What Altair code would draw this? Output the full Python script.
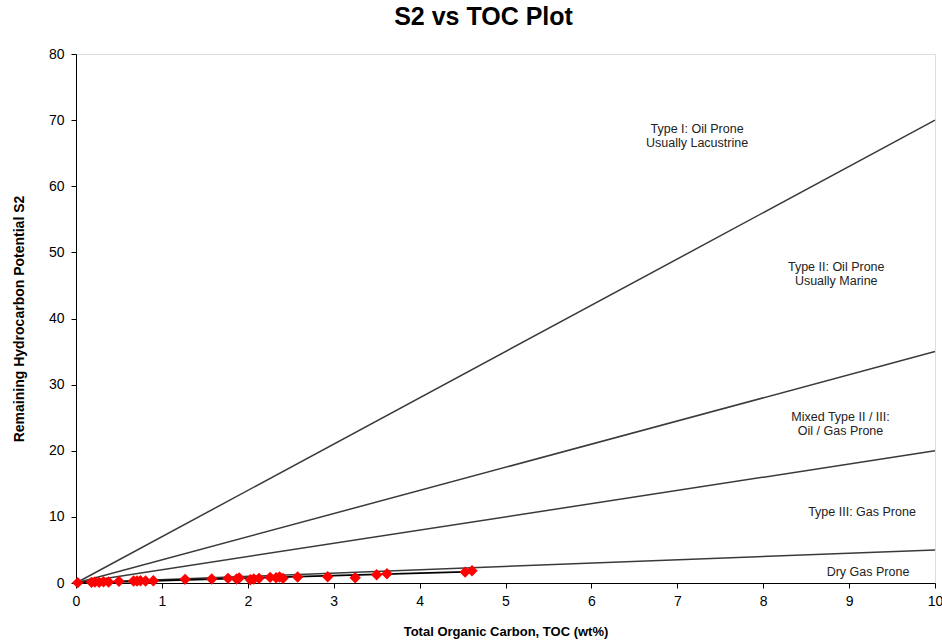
import altair as alt
import pandas as pd

# Sample data (TOC wt%, S2)
toc = [0.02, 0.18, 0.22, 0.27, 0.32, 0.38, 0.50, 0.67, 0.71, 0.75, 0.81, 0.90,
       1.27, 1.58, 1.77, 1.87, 1.90, 2.03, 2.07, 2.13, 2.26, 2.33, 2.37, 2.41,
       2.58, 2.93, 3.25, 3.50, 3.62, 4.53, 4.61]
s2 = [0.05, 0.10, 0.15, 0.10, 0.20, 0.15, 0.25, 0.30, 0.30, 0.35, 0.30, 0.35,
      0.55, 0.60, 0.70, 0.60, 0.75, 0.50, 0.60, 0.70, 0.85, 0.80, 0.90, 0.70,
      0.90, 0.95, 0.80, 1.25, 1.40, 1.65, 1.85]

# Kerogen type boundary lines (S2 at TOC = 0 and 10)
boundary_names = ["Type I", "Type II", "Mixed", "Type III"]
boundary_end_s2 = [70, 35, 20, 5]
boundary_x = [0, 10]

# Trend line through samples
trend_x = [0, 4.62]
trend_y = [0, 1.72]

# Zone labels
label_text = [["Type I: Oil Prone", "Usually Lacustrine"],
              ["Type II: Oil Prone", "Usually Marine"],
              ["Mixed Type II / III:", "Oil / Gas Prone"],
              ["Type III: Gas Prone"],
              ["Dry Gas Prone"]]
label_x = [7.23, 8.85, 8.9, 9.15, 9.22]
label_y = [68.7, 47.8, 25.1, 10.7, 1.66]

pts = pd.DataFrame({"TOC": toc, "S2": s2})

rows = []
for name, end in zip(boundary_names, boundary_end_s2):
    for xv in boundary_x:
        rows.append({"line": name, "TOC": xv, "S2": end * xv / 10})
lines_df = pd.DataFrame(rows)

trend_df = pd.DataFrame({"TOC": trend_x, "S2": trend_y})
labels_df = pd.DataFrame({"text": label_text, "TOC": label_x, "S2": label_y})

xscale = alt.Scale(domain=[0, 10], nice=False)
yscale = alt.Scale(domain=[0, 80], nice=False)

xenc = alt.X("TOC:Q", scale=xscale,
             axis=alt.Axis(title="Total Organic Carbon, TOC (wt%)", values=list(range(0, 11)),
                           format="d", grid=False, tickSize=5, domainColor="black",
                           tickColor="black", labelFontSize=14, labelColor="#000",
                           labelPadding=6, labelFlush=False, labelOverlap=False,
                           titleFontSize=13, titleFontWeight="bold",
                           titlePadding=17, labelFont="Liberation Sans",
                           titleFont="Liberation Sans", titleColor="#000"))
yenc = alt.Y("S2:Q", scale=yscale,
             axis=alt.Axis(title="Remaining Hydrocarbon Potential S2", values=list(range(0, 81, 10)),
                           format="d", grid=False, tickSize=5, domainColor="black",
                           tickColor="black", labelFontSize=14, labelColor="#000",
                           labelPadding=7, labelFlush=False, labelOverlap=False,
                           titleFontSize=14, titleFontWeight="bold",
                           titlePadding=22, labelFont="Liberation Sans",
                           titleFont="Liberation Sans", titleColor="#000"))

lines = alt.Chart(lines_df).mark_line(color="#3a3a3a", strokeWidth=1.5).encode(
    x=xenc, y=yenc, detail="line:N")

trend = alt.Chart(trend_df).mark_line(color="#000000", strokeWidth=1.8).encode(
    x="TOC:Q", y="S2:Q")

points = alt.Chart(pts).mark_point(shape="diamond", filled=True, color="#ff0000",
                                   size=130, opacity=1).encode(x="TOC:Q", y="S2:Q")

labels = alt.Chart(labels_df).mark_text(fontSize=12.5, font="Liberation Sans", color="#222",
                                        align="center", baseline="middle", lineHeight=14).encode(
    x="TOC:Q", y="S2:Q", text="text")

chart = alt.layer(lines, trend, points, labels).properties(
    width=859, height=529,
    title=alt.TitleParams("S2 vs TOC Plot", fontSize=25, fontWeight="bold",
                          font="Liberation Sans", color="#000", anchor="middle",
                          dx=-22, offset=17),
    autosize=alt.AutoSizeParams(type="none"),
    padding={"left": 76, "top": 54, "right": 7, "bottom": 58},
).configure_view(stroke="black", strokeWidth=1).configure(background="white")

chart.save("out.html", embed_options={"renderer": "svg", "actions": False})
